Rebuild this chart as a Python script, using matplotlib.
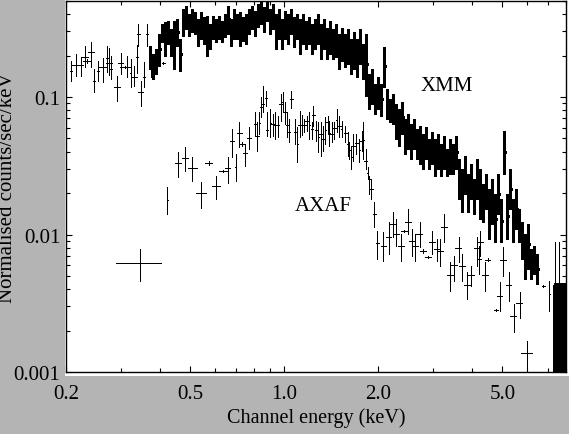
import numpy as np
import matplotlib
matplotlib.use("Agg")
import matplotlib.pyplot as plt
from matplotlib.patches import Rectangle
from matplotlib.ticker import FixedLocator, FixedFormatter, LogLocator, NullFormatter

plt.rcParams['font.family'] = ['Liberation Serif', 'DejaVu Serif']
plt.rcParams['lines.antialiased'] = False

# ---- XMM, sparse channels (keV, counts/s/keV, lower, upper, half width)
xmm_s_e = [0.2075, 0.2148, 0.224, 0.230, 0.234, 0.241, 0.246, 0.254, 0.262, 0.271,
           0.275, 0.279, 0.291, 0.299, 0.309, 0.313, 0.322, 0.330, 0.337, 0.341,
           0.347, 0.356, 0.364, 0.374, 0.410, 6.766, 7.073]
xmm_s_v = [0.155, 0.171, 0.171, 0.195, 0.183, 0.212, 0.131, 0.155, 0.165, 0.192,
           0.177, 0.16, 0.118, 0.177, 0.165, 0.165, 0.15, 0.140, 0.195, 0.287,
           0.109, 0.14, 0.29, 0.171, 0.177, 0.00422, 0.00369]
xmm_s_lo = [0.131, 0.142, 0.142, 0.165, 0.178, 0.165, 0.109, 0.131, 0.1285, 0.152,
            0.145, 0.135, 0.0936, 0.146, 0.162, 0.14, 0.118, 0.12, 0.15, 0.235,
            0.086, 0.118, 0.235, 0.14, 0.175, 0.00415, 0.00278]
xmm_s_hi = [0.183, 0.2055, 0.195, 0.235, 0.188, 0.251, 0.160, 0.183, 0.192, 0.235,
            0.227, 0.2, 0.142, 0.21, 0.168, 0.20, 0.19, 0.168, 0.24, 0.34,
            0.131, 0.18, 0.34, 0.2, 0.179, 0.0043, 0.00458]
xmm_s_de = [0.002, 0.005, 0.002, 0.005, 0.0065, 0.005, 0.002, 0.002, 0.006, 0.002,
            0.006, 0.002, 0.006, 0.006, 0.0115, 0.006, 0.002, 0.007, 0.002, 0.004,
            0.006, 0.002, 0.002, 0.005, 0.004, 0.08, 0.02]

# ---- XMM, dense channels
xmm_e = [0.372, 0.380, 0.389, 0.3976, 0.4064, 0.4155, 0.4248, 0.4343, 0.444, 0.454,
         0.4642, 0.4745, 0.4851, 0.496, 0.507, 0.5184, 0.530, 0.542, 0.554, 0.5664,
         0.579, 0.592, 0.6053, 0.619, 0.6328, 0.647, 0.6614, 0.676, 0.6915, 0.7069,
         0.7227, 0.7389, 0.7554, 0.7723, 0.7896, 0.8073, 0.8253, 0.8438, 0.8627, 0.882,
         0.9018, 0.922, 0.9427, 0.9638, 0.9853, 1.0074, 1.030, 1.053, 1.0767, 1.1008,
         1.1254, 1.1506, 1.1764, 1.2027, 1.2297, 1.2572, 1.2853, 1.3141, 1.3436, 1.3736,
         1.4044, 1.4358, 1.468, 1.5009, 1.5345, 1.5689, 1.604, 1.6399, 1.6767, 1.714,
         1.7525, 1.7917, 1.8318, 1.8728, 1.9148, 1.9577, 2.0015, 2.0463, 2.0922, 2.139,
         2.1869, 2.2359, 2.2859, 2.3371, 2.3894, 2.4429, 2.4976, 2.5536, 2.6107, 2.6692,
         2.7289, 2.79, 2.8525, 2.9164, 2.9817, 3.0485, 3.1167, 3.1865, 3.2579, 3.3308,
         3.4054, 3.4817, 3.5597, 3.6394, 3.7209, 3.8042, 3.8894, 3.9765, 4.0656, 4.1566,
         4.2497, 4.3449, 4.4422, 4.5417, 4.6434, 4.7474, 4.8537, 4.9624, 5.0735, 5.1871,
         5.3033, 5.422, 5.5434, 5.6676, 5.7945, 5.9243, 6.0569, 6.1926, 6.3313, 6.473]
xmm_v = [0.1954, 0.168, 0.1827, 0.2234, 0.297, 0.264, 0.297, 0.251, 0.243, 0.297,
         0.2055, 0.351, 0.382, 0.340, 0.369, 0.351, 0.297, 0.328, 0.312, 0.287,
         0.278, 0.328, 0.312, 0.323, 0.302, 0.328, 0.369, 0.297, 0.340, 0.328,
         0.312, 0.312, 0.312, 0.357, 0.382, 0.340, 0.4015, 0.415, 0.369, 0.422,
         0.357, 0.388, 0.297, 0.340, 0.287, 0.328, 0.312, 0.357, 0.297, 0.328,
         0.278, 0.312, 0.287, 0.312, 0.264, 0.287, 0.312, 0.255, 0.287, 0.251,
         0.278, 0.243, 0.264, 0.223, 0.243, 0.223, 0.235, 0.199, 0.223, 0.199,
         0.235, 0.189, 0.174, 0.1105, 0.1202, 0.0967, 0.1087, 0.0967, 0.168, 0.0889,
         0.0818, 0.0818, 0.0692, 0.0605, 0.0716, 0.052, 0.0556, 0.0471, 0.0538, 0.0455,
         0.044, 0.0398, 0.0471, 0.0385, 0.0418, 0.0354, 0.0398, 0.0354, 0.0398, 0.0337,
         0.0372, 0.0354, 0.0398, 0.0253, 0.0214, 0.0266, 0.0204, 0.0241, 0.0191, 0.0253,
         0.0197, 0.0172, 0.0204, 0.0146, 0.0172, 0.0130, 0.0197, 0.0125, 0.0398, 0.0136,
         0.0214, 0.0125, 0.0153, 0.0115, 0.0096, 0.00686, 0.00853, 0.0059, 0.00664, 0.00561]
xmm_lo = [0.160, 0.135, 0.147, 0.168, 0.251, 0.199, 0.243, 0.199, 0.160, 0.235,
          0.1545, 0.278, 0.312, 0.278, 0.297, 0.287, 0.235, 0.264, 0.243, 0.199,
          0.223, 0.264, 0.251, 0.264, 0.251, 0.273, 0.287, 0.235, 0.264, 0.264,
          0.235, 0.255, 0.243, 0.287, 0.312, 0.278, 0.323, 0.340, 0.297, 0.357,
          0.287, 0.312, 0.223, 0.264, 0.223, 0.264, 0.243, 0.287, 0.231, 0.264,
          0.2055, 0.243, 0.223, 0.243, 0.2055, 0.223, 0.243, 0.189, 0.223, 0.189,
          0.2055, 0.189, 0.195, 0.160, 0.183, 0.165, 0.174, 0.147, 0.160, 0.140,
          0.174, 0.135, 0.1017, 0.0818, 0.0889, 0.0752, 0.0818, 0.0727, 0.118, 0.0692,
          0.0658, 0.0636, 0.0495, 0.044, 0.0538, 0.0385, 0.0418, 0.0354, 0.0418, 0.0354,
          0.0326, 0.030, 0.0354, 0.030, 0.0326, 0.0266, 0.030, 0.0266, 0.030, 0.0266,
          0.0275, 0.0275, 0.030, 0.0181, 0.0146, 0.0197, 0.0146, 0.0181, 0.0141, 0.0181,
          0.0130, 0.0123, 0.0153, 0.00928, 0.0119, 0.00882, 0.0141, 0.00882, 0.0275, 0.00928,
          0.0153, 0.00882, 0.0110, 0.00882, 0.00664, 0.00475, 0.00561, 0.00475, 0.00516, 0.00437]
xmm_hi = [0.235, 0.2055, 0.2234, 0.287, 0.340, 0.351, 0.357, 0.312, 0.357, 0.369,
          0.264, 0.4365, 0.459, 0.4015, 0.4365, 0.415, 0.369, 0.415, 0.382, 0.388,
          0.340, 0.388, 0.369, 0.388, 0.357, 0.4015, 0.459, 0.369, 0.4365, 0.4015,
          0.415, 0.382, 0.4015, 0.4365, 0.459, 0.422, 0.4746, 0.491, 0.451, 0.491,
          0.4365, 0.4746, 0.4015, 0.4365, 0.369, 0.422, 0.4015, 0.4365, 0.382, 0.4015,
          0.369, 0.4015, 0.357, 0.382, 0.340, 0.369, 0.4015, 0.340, 0.369, 0.318,
          0.357, 0.312, 0.340, 0.287, 0.318, 0.287, 0.312, 0.264, 0.297, 0.264,
          0.312, 0.243, 0.287, 0.147, 0.160, 0.1243, 0.140, 0.1243, 0.231, 0.1143,
          0.0967, 0.1051, 0.0889, 0.0818, 0.092, 0.0692, 0.0752, 0.0636, 0.0692, 0.0585,
          0.0615, 0.0538, 0.0605, 0.0495, 0.0556, 0.0495, 0.0538, 0.0455, 0.052, 0.0418,
          0.0495, 0.0455, 0.052, 0.0354, 0.030, 0.0372, 0.0275, 0.0326, 0.0253, 0.0354,
          0.030, 0.0233, 0.0275, 0.0214, 0.0253, 0.0197, 0.0275, 0.0181, 0.0565, 0.0197,
          0.030, 0.0181, 0.0214, 0.0153, 0.0123, 0.0101, 0.0119, 0.00784, 0.00825, 0.00721]

# ---- XMM, last channels (lower errors run off the bottom)
xmm_t_e = [7.39, 7.50, 7.61, 7.72, 7.84, 7.95]
xmm_t_v = [0.0043, 0.0043, 0.0043, 0.0043, 0.0043, 0.0043]
xmm_t_lo = [0.0001, 0.0001, 0.0001, 0.0001, 0.0001, 0.0001]
xmm_t_hi = [0.0088, 0.0043, 0.0088, 0.0043, 0.0043, 0.0043]

# ---- AXAF
axaf_e = [0.346, 0.4227, 0.4583, 0.4817, 0.5083, 0.542, 0.573, 0.605, 0.637, 0.66,
          0.68, 0.70, 0.7176, 0.7333, 0.75, 0.7706, 0.807, 0.8194, 0.832, 0.844,
          0.858, 0.875, 0.882, 0.902, 0.920, 0.936, 0.9546, 0.9759, 0.9904, 1.0074,
          1.0247, 1.0375, 1.055, 1.0845, 1.103, 1.12, 1.1395, 1.159, 1.182, 1.2025,
          1.227, 1.2413, 1.2664, 1.288, 1.311, 1.3366, 1.353, 1.377, 1.397, 1.4216,
          1.446, 1.4757, 1.5007, 1.531, 1.569, 1.596, 1.615, 1.639, 1.6676, 1.701,
          1.7434, 1.7744, 1.7956, 1.828, 1.85, 1.8766, 1.9004, 1.9468, 1.9907, 2.0808,
          2.1597, 2.2304, 2.2856, 2.366, 2.425, 2.502, 2.566, 2.63, 2.715, 2.784,
          2.894, 2.987, 3.085, 3.162, 3.257, 3.388, 3.508, 3.62, 3.712, 3.851,
          3.975, 4.147, 4.217, 4.248, 4.408, 4.484, 4.78, 4.898, 5.021, 5.235,
          5.432, 5.677, 6.0]
axaf_v = [0.00621, 0.0178, 0.0331, 0.036, 0.0305, 0.0200, 0.0331, 0.0225, 0.029, 0.0305,
          0.0479, 0.031, 0.0547, 0.0455, 0.0392, 0.0503, 0.0637, 0.052, 0.0647, 0.0846,
          0.0889, 0.0983, 0.0575, 0.0647, 0.0637, 0.0626, 0.0626, 0.0889, 0.092, 0.0778,
          0.0626, 0.0556, 0.0967, 0.0556, 0.0455, 0.0626, 0.0626, 0.0626, 0.0669, 0.0626,
          0.0585, 0.074, 0.0575, 0.0512, 0.0538, 0.0495, 0.0575, 0.0658, 0.0547, 0.0538,
          0.0595, 0.068, 0.0615, 0.0585, 0.0547, 0.0455, 0.0412, 0.0366, 0.0441, 0.0463,
          0.0412, 0.0479, 0.0487, 0.0342, 0.028, 0.0253, 0.0214, 0.0141, 0.00868, 0.00825,
          0.0096, 0.01192, 0.0101, 0.00825, 0.0106, 0.01233, 0.00897, 0.00825, 0.0101, 0.00759,
          0.00686, 0.00882, 0.00784, 0.00759, 0.01134, 0.00508, 0.006, 0.00798, 0.0059, 0.0043,
          0.00508, 0.00798, 0.00664, 0.00882, 0.00508, 0.00653, 0.00283, 0.00357, 0.00653, 0.0043,
          0.00255, 0.00318, 0.001374]
axaf_lo = [0.00459, 0.0141, 0.0262, 0.029, 0.0245, 0.0156, 0.032, 0.0181, 0.0285, 0.0237,
           0.0366, 0.0245, 0.0433, 0.044, 0.0315, 0.0419, 0.052, 0.0405, 0.0538, 0.0716,
           0.0778, 0.086, 0.052, 0.0512, 0.052, 0.0495, 0.0512, 0.0669, 0.0778, 0.0637,
           0.0512, 0.0471, 0.0832, 0.0455, 0.0337, 0.0512, 0.0529, 0.0556, 0.0566, 0.0495,
           0.0495, 0.0615, 0.0479, 0.0398, 0.0372, 0.0405, 0.0455, 0.0538, 0.0441, 0.0471,
           0.0495, 0.0556, 0.0512, 0.0512, 0.0471, 0.0372, 0.0354, 0.030, 0.0342, 0.0385,
           0.0337, 0.0405, 0.0354, 0.030, 0.0253, 0.0197, 0.0181, 0.01134, 0.00664, 0.00642,
           0.00721, 0.0096, 0.00825, 0.00642, 0.0104, 0.0101, 0.00698, 0.00642, 0.00811, 0.0074,
           0.0067, 0.00721, 0.00642, 0.0059, 0.00882, 0.00388, 0.00459, 0.00631, 0.00459, 0.0034,
           0.00422, 0.0059, 0.00516, 0.00698, 0.00388, 0.0064, 0.00278, 0.00278, 0.00499, 0.00328,
           0.00195, 0.00247, 0.00107]
axaf_hi = [0.00785, 0.0222, 0.0398, 0.0433, 0.0366, 0.0241, 0.034, 0.0266, 0.0295, 0.0366,
           0.0585, 0.0385, 0.0658, 0.047, 0.0455, 0.0605, 0.0778, 0.0658, 0.0778, 0.1,
           0.1202, 0.1106, 0.0778, 0.0818, 0.0752, 0.0778, 0.0727, 0.105, 0.109, 0.092,
           0.0778, 0.0692, 0.1106, 0.0692, 0.0605, 0.0791, 0.074, 0.0692, 0.0727, 0.0778,
           0.0658, 0.086, 0.0669, 0.0658, 0.0658, 0.0615, 0.0716, 0.0727, 0.0669, 0.0658,
           0.0658, 0.0818, 0.0727, 0.0669, 0.0615, 0.0556, 0.0471, 0.0441, 0.0538, 0.0538,
           0.0495, 0.0566, 0.0658, 0.0419, 0.031, 0.0266, 0.0253, 0.01723, 0.0106, 0.01043,
           0.01233, 0.01459, 0.01297, 0.0101, 0.0108, 0.01533, 0.01096, 0.0101, 0.01233, 0.0078,
           0.0070, 0.0106, 0.00928, 0.00928, 0.0141, 0.00631, 0.00698, 0.0096, 0.00721, 0.00534,
           0.0059, 0.0096, 0.00825, 0.0106, 0.00631, 0.0067, 0.00288, 0.00451, 0.00811, 0.00534,
           0.00312, 0.00382, 0.00168]
axaf_de = [0.056, 0.002, 0.010, 0.010, 0.016, 0.021, 0.015, 0.018, 0.017, 0.013,
           0.010, 0.003, 0.013, 0.013, 0.013, 0.013, 0.004, 0.010, 0.004, 0.010,
           0.006, 0.004, 0.008, 0.004, 0.010, 0.010, 0.010, 0.010, 0.004, 0.010,
           0.010, 0.010, 0.012, 0.010, 0.004, 0.012, 0.012, 0.012, 0.012, 0.005,
           0.012, 0.012, 0.012, 0.005, 0.014, 0.014, 0.005, 0.014, 0.005, 0.015,
           0.015, 0.005, 0.015, 0.005, 0.016, 0.006, 0.006, 0.006, 0.018, 0.018,
           0.006, 0.018, 0.006, 0.020, 0.007, 0.020, 0.020, 0.020, 0.020, 0.045,
           0.047, 0.049, 0.050, 0.052, 0.050, 0.055, 0.056, 0.058, 0.060, 0.060,
           0.070, 0.066, 0.068, 0.070, 0.072, 0.075, 0.077, 0.080, 0.082, 0.085,
           0.087, 0.090, 0.060, 0.090, 0.097, 0.070, 0.076, 0.100, 0.110, 0.115,
           0.120, 0.125, 0.240]

xtick_vals = [0.2, 0.5, 1.0, 2.0, 5.0]
xtick_labels = ['0.2', '0.5', '1.0', '2.0', '5.0']
ytick_vals = [0.001, 0.01, 0.1]
ytick_labels = ['0.001', '0.01', '0.1']


def bars(ax, e, v, lo, hi, de, lw=0.6):
    e = np.asarray(e); v = np.asarray(v)
    yerr = [v - np.asarray(lo), np.asarray(hi) - v]
    ax.errorbar(e, v, yerr=yerr, xerr=de, fmt='none', ecolor='black',
                elinewidth=lw, capsize=0)


fig = plt.figure(figsize=(5.69, 4.35), dpi=100, facecolor='#b4b4b4')
fig.patches.append(Rectangle((65 / 569, 58 / 435), 504 / 569, 377 / 435,
                             transform=fig.transFigure, facecolor='white',
                             edgecolor='none', zorder=-5))
ax = fig.add_axes([66 / 569, 62 / 435, 500 / 569, 371 / 435])
ax.set_zorder(1)
ax.set_xscale('log'); ax.set_yscale('log')

t_e = np.asarray(xmm_t_e)
t_de = np.gradient(t_e) / 2
bars(ax, xmm_s_e, xmm_s_v, xmm_s_lo, xmm_s_hi, xmm_s_de)
bars(ax, xmm_e, xmm_v, xmm_lo, xmm_hi, np.gradient(np.asarray(xmm_e)) / 2, lw=0.85)
# last channels: thick lower part, thin upper part
bars(ax, t_e, xmm_t_v, xmm_t_lo, xmm_t_v, t_de, lw=2.2)
bars(ax, t_e, xmm_t_v, xmm_t_v, xmm_t_hi, 0 * t_de)
bars(ax, axaf_e, axaf_v, axaf_lo, axaf_hi, axaf_de)

ax.set_xlim(0.2, 8.0)
ax.set_ylim(0.001, 0.5)

ax.xaxis.set_major_locator(FixedLocator(xtick_vals))
ax.xaxis.set_major_formatter(FixedFormatter(xtick_labels))
ax.xaxis.set_minor_locator(LogLocator(base=10, subs=np.arange(2, 10)))
ax.xaxis.set_minor_formatter(NullFormatter())
ax.yaxis.set_major_locator(FixedLocator(ytick_vals))
ax.yaxis.set_major_formatter(FixedFormatter(ytick_labels))
ax.yaxis.set_minor_locator(LogLocator(base=10, subs=np.arange(2, 10)))
ax.yaxis.set_minor_formatter(NullFormatter())

ax.tick_params(which='both', direction='in', top=True, right=True, width=0.8, labelsize=15)
ax.tick_params(which='major', length=4.5)
ax.tick_params(which='minor', length=3)
ax.tick_params(axis='x', which='major', pad=9)
ax.tick_params(axis='y', which='major', pad=4)
for s in ax.spines.values():
    s.set_linewidth(1.0)

ax.set_xlabel('Channel energy (keV)', fontsize=14.5)
ax.xaxis.set_label_coords(0.5, -0.095)
ax.set_ylabel('Normalised counts/sec/keV', fontsize=15)
ax.yaxis.set_label_coords(-0.097, 0.5)

ax.text(3.33, 0.1125, 'XMM', fontsize=15, ha='center', va='baseline')
ax.text(1.339, 0.01507, 'AXAF', fontsize=15, ha='center', va='baseline')

fig.savefig('out.png', dpi=100, facecolor=fig.get_facecolor())
